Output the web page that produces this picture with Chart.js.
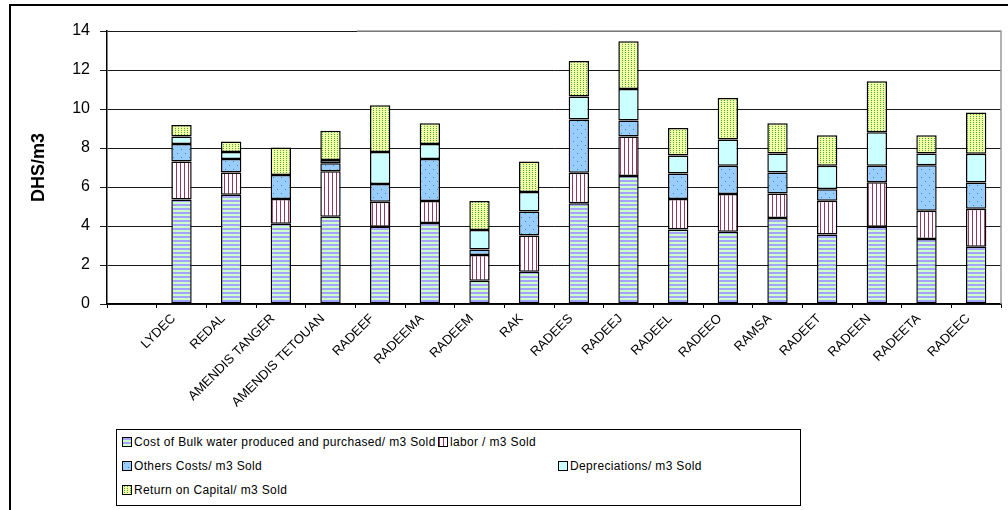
<!DOCTYPE html>
<html>
<head>
<meta charset="utf-8">
<script src="https://cdn.jsdelivr.net/npm/chart.js@4.4.0/dist/chart.umd.min.js"></script>
<style>
html, body { margin: 0; padding: 0; background: #fff; }
#wrap { position: relative; width: 1008px; height: 510px; overflow: hidden; }
#frame { position: absolute; left: 9px; top: 4px; width: 1020px; height: 540px; border-top: 2px solid #000; border-left: 2px solid #000; pointer-events: none; }
#myChart { position: absolute; left: 0; top: 0; }
#legend { position: absolute; left: 116px; top: 429px; width: 683px; height: 75px; border: 1px solid #000; background: #fff;
          font-family: "Liberation Sans", Arial, sans-serif; font-size: 12px; letter-spacing: 0.35px; color: #000; }
.item { position: absolute; display: flex; align-items: center; white-space: nowrap; height: 14px; }
.item canvas { width: 8px; height: 8px; border: 1px solid #000; margin-right: 2px; }
</style>
</head>
<body>
<div id="wrap">
  <canvas id="myChart" width="1008" height="510"></canvas>
  <div id="frame"></div>
  <div id="legend"></div>
</div>
<script>
// categories (first slot is empty in the original sheet)
var categories = ['', 'LYDEC', 'REDAL', 'AMENDIS TANGER', 'AMENDIS TETOUAN', 'RADEEF', 'RADEEMA', 'RADEEM', 'RAK',
                  'RADEES', 'RADEEJ', 'RADEEL', 'RADEEO', 'RAMSA', 'RADEET', 'RADEEN', 'RADEETA', 'RADEEC'];

var bulkWater     = [null, 5.36, 5.60, 4.11, 4.47, 3.96, 4.16, 1.19, 1.65, 5.17, 6.57, 3.82, 3.70, 4.41, 3.57, 3.96, 3.33, 2.94];
var labor         = [null, 1.95, 1.14, 1.28, 2.34, 1.28, 1.12, 1.32, 1.86, 1.56, 2.02, 1.57, 1.94, 1.26, 1.72, 2.29, 1.45, 1.94];
var othersCosts   = [null, 0.90, 0.70, 1.23, 0.41, 0.92, 2.16, 0.29, 1.23, 2.73, 0.82, 1.30, 1.45, 1.07, 0.60, 0.84, 2.34, 1.35];
var depreciations = [null, 0.38, 0.36, null, 0.16, 1.64, 0.76, 0.99, 1.00, 1.18, 1.62, 0.92, 1.34, 0.98, 1.20, 1.72, 0.60, 1.47];
var returnCapital = [null, 0.59, 0.53, 1.40, 1.51, 2.39, 1.07, 1.49, 1.57, 1.82, 2.44, 1.42, 2.14, 1.55, 1.57, 2.61, 0.94, 2.12];

var yTicks = [0, 2, 4, 6, 8, 10, 12, 14];

var seriesNames = [
    'Cost of Bulk water produced and purchased/ m3 Sold',
    'labor / m3 Sold',
    'Others Costs/ m3 Sold',
    'Depreciations/ m3 Sold',
    'Return on Capital/ m3 Sold'
];

// small tiles used as fill patterns (Excel style hatching)
function tile(kind)
{
    let c = document.createElement('canvas');
    let g = c.getContext('2d');
    if(kind == 'bulk') {
        c.width = 4; c.height = 4;
        g.fillStyle = '#ccffcc'; g.fillRect(0, 0, 4, 4);
        g.fillStyle = '#a4a4ff'; g.fillRect(0, 0, 4, 2);
    } else if(kind == 'labor') {
        c.width = 4; c.height = 4;
        g.fillStyle = '#ffffff'; g.fillRect(0, 0, 4, 4);
        g.fillStyle = '#993366'; g.fillRect(0, 0, 1, 4);
    } else if(kind == 'others') {
        c.width = 8; c.height = 8;
        g.fillStyle = '#99ccff'; g.fillRect(0, 0, 8, 8);
        g.fillStyle = '#2f9999'; g.fillRect(1, 1, 1, 1); g.fillRect(5, 5, 1, 1);
    } else if(kind == 'dep') {
        c.width = 4; c.height = 4;
        g.fillStyle = '#ccffff'; g.fillRect(0, 0, 4, 4);
    } else {
        c.width = 3; c.height = 2;
        g.fillStyle = '#f2ffa6'; g.fillRect(0, 0, 3, 2);
        g.fillStyle = '#4ea83a'; g.fillRect(1, 0, 1, 1);
    }
    return c;
}

var kinds = ['bulk', 'labor', 'others', 'dep', 'ret'];
var canvas = document.getElementById('myChart');
var ctx = canvas.getContext('2d');
var patterns = kinds.map(k => ctx.createPattern(tile(k), 'repeat'));
var values = [bulkWater, labor, othersCosts, depreciations, returnCapital];

Chart.defaults.font.family = '"Liberation Sans", Arial, sans-serif';
Chart.defaults.color = '#000';

let plotBorder = {
    id: 'plotBorder',
    beforeDatasetsDraw(chart) {
        let a = chart.chartArea;
        let c = chart.ctx;
        c.save();
        c.strokeStyle = '#9a9a9a';
        c.lineWidth = 1.5;
        c.beginPath();
        c.moveTo(a.left + 250, a.top);
        c.lineTo(a.right, a.top);
        c.lineTo(a.right, a.bottom);
        c.stroke();
        c.restore();
    }
};

let chartData = {
    labels: categories,
    datasets: values.map((v, i) => ({
        label: seriesNames[i],
        data: v,
        backgroundColor: patterns[i],
        borderColor: '#000',
        borderWidth: 1.5,
        borderSkipped: false,
        barPercentage: 0.41,
        categoryPercentage: 1.0
    }))
};

let config = {
    type: 'bar',
    data: chartData,
    options: {
        responsive: false,
        animation: false,
        layout: { padding: { top: 31, right: 7, left: 0, bottom: 0 } },
        plugins: {
            legend: { display: false },
            tooltip: { enabled: false }
        },
        scales: {
            x: {
                stacked: true,
                grid: { offset: true, drawOnChartArea: false, drawTicks: true, tickLength: 4, color: '#000' },
                border: { color: '#000', width: 1.5 },
                ticks: { autoSkip: false, maxRotation: 45, minRotation: 45, font: { size: 13 }, padding: 3, labelOffset: -8 },
                afterFit: (s) => { s.height = 206; }
            },
            y: {
                stacked: true,
                min: 0,
                max: 14,
                afterBuildTicks: (s) => { s.ticks = yTicks.map(v => ({ value: v })); },
                grid: { color: '#1a1a1a', lineWidth: 1, tickLength: 7 },
                border: { color: '#000', width: 1.5 },
                ticks: { font: { size: 16 }, padding: 10 },
                title: { display: true, text: 'DHS/m3', font: { size: 18, weight: 'bold' }, padding: { top: 28, bottom: 0 } },
                afterFit: (s) => { s.width = 107; }
            }
        }
    },
    plugins: [plotBorder]
};

let mychart = new Chart(canvas, config);

// legend (Excel box below the plot)
let legendPos = [
    { left: 5, top: 5 },
    { left: 321, top: 5 },
    { left: 5, top: 29 },
    { left: 441, top: 29 },
    { left: 5, top: 53 }
];
let legendBox = document.getElementById('legend');
seriesNames.forEach((name, i) => {
    let item = document.createElement('div');
    item.className = 'item';
    item.style.left = legendPos[i].left + 'px';
    item.style.top = legendPos[i].top + 'px';
    let sw = document.createElement('canvas');
    sw.width = 8; sw.height = 8;
    let sg = sw.getContext('2d');
    sg.fillStyle = sg.createPattern(tile(kinds[i]), 'repeat');
    sg.fillRect(0, 0, 8, 8);
    item.appendChild(sw);
    let span = document.createElement('span');
    span.textContent = name;
    item.appendChild(span);
    legendBox.appendChild(item);
});
</script>
</body>
</html>
